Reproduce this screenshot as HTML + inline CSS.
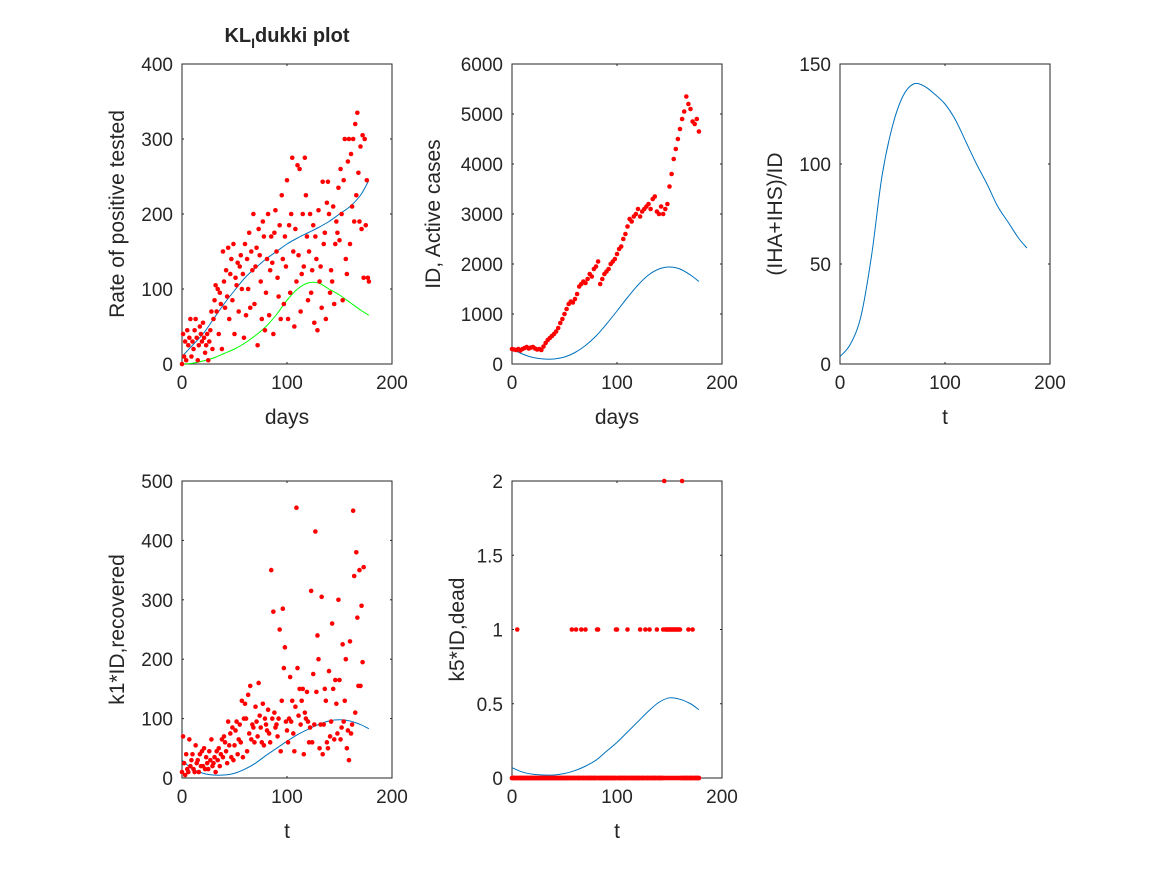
<!DOCTYPE html>
<html><head><meta charset="utf-8"><style>
body{margin:0;background:#fff;}
svg text{font-family:"Liberation Sans",sans-serif;fill:#262626;}
</style></head><body>
<svg id="fig" width="1167" height="875" viewBox="0 0 1167 875">
<rect width="1167" height="875" fill="#fff"/>
<text x="287" y="42" font-size="20" font-weight="bold" text-anchor="middle">KL<tspan font-size="14" dy="6">I</tspan><tspan dy="-6">dukki plot</tspan></text>
</svg>
<script>
// ---- data ----
const rateValues = [0,40,10,30,5,45,25,35,60,10,30,20,45,60,35,5,25,50,40,30,55,35,15,25,40,5,30,45,70,20,60,85,105,70,100,40,95,80,20,150,110,75,125,90,155,60,120,140,85,160,40,115,105,135,70,130,145,100,120,35,160,65,140,100,175,75,150,125,200,80,130,155,25,180,145,110,60,190,170,45,95,140,200,65,125,170,135,40,175,205,150,115,90,185,60,225,140,80,170,130,245,60,185,95,200,275,150,50,180,110,265,145,260,70,120,200,130,275,225,170,85,150,200,95,125,185,55,170,140,45,205,110,130,75,243,160,175,60,215,243,200,95,125,110,210,80,160,190,175,235,165,260,200,85,245,300,140,120,270,300,160,280,210,300,190,320,225,335,255,190,290,180,305,115,300,185,245,115,110];
const curveDays = [0,10,20,30,40,50,60,70,80,90,100,110,120,130,140,150,160,170,178];
const rateBlue = [10,25,40,60,80,98,115,128,140,150,160,168,175,182,190,200,210,225,245];
const rateGreen = [0,1,4,8,14,20,28,38,50,66,85,100,108,108,100,92,82,72,65];
const activeDayStep = 2;
const activeValues = [300,290,280,300,270,300,320,340,310,330,340,310,290,300,280,350,420,480,520,560,600,650,720,820,900,1000,1100,1200,1250,1230,1300,1400,1550,1600,1650,1620,1700,1800,1750,1900,1950,2050,1600,1700,1800,1850,1900,2000,2050,2100,2200,2300,2350,2500,2600,2750,2900,2850,2950,3000,3100,2950,3050,3100,3150,3200,3100,3300,3350,3050,3000,3150,3000,3100,3200,3550,3800,4100,4300,4500,4700,4900,5050,5350,5200,5100,4850,4800,4900,4650];
const activeBlue = [300,200,130,100,100,140,230,370,560,800,1060,1330,1580,1780,1900,1940,1900,1780,1650];
const ratioCurve = [3.7,10,24,54,94,119,134,140,139,135,130,122,111,100,90,79,71,63,58];
const recoveredValues = [10,70,25,5,40,15,10,65,20,30,40,15,10,55,25,30,10,40,20,45,20,50,15,35,25,15,45,30,65,20,25,35,10,45,30,50,20,40,65,35,70,60,45,25,95,55,75,35,85,30,55,80,95,40,65,90,60,130,35,100,125,100,45,140,75,155,65,90,85,60,120,95,70,160,105,85,60,125,55,100,90,80,115,75,60,350,100,280,110,85,90,70,100,250,45,130,285,185,220,95,80,60,100,170,95,130,75,45,120,455,185,105,150,90,130,150,40,110,100,145,95,60,85,315,60,175,90,415,145,240,200,50,90,305,40,90,150,130,60,50,180,70,95,260,150,65,165,125,75,300,165,65,85,225,95,130,200,50,80,30,230,75,90,450,340,110,380,270,155,350,155,290,195,355];
const recoveredBlue = [30,15,8,5,5,8,15,25,38,50,62,73,82,90,96,98,96,90,83];
const deadValues = [0,0,0,0,0,1,0,0,0,0, 0,0,0,0,0,0,0,0,0,0, 0,0,0,0,0,0,0,0,0,0, 0,0,0,0,0,0,0,0,0,0, 0,0,0,0,0,0,0,0,0,0, 0,0,0,0,0,0,0,1,0,0, 0,1,0,0,0,0,1,0,0,0, 1,0,0,0,0,0,0,0,0,0, 0,1,1,0,0,0,0,0,0,0, 0,0,0,0,0,0,0,0,0,1, 1,0,0,0,0,0,0,0,0,0, 1,0,0,0,0,0,0,0,0,0, 0,0,1,0,0,0,0,1,0,0, 0,1,0,0,0,0,0,0,1,0, 0,0,0,0,1,2,1,1,1,1, 1,1,1,1,1,1,1,1,1,1, 1,0,2,0,0,0,0,0,1,0, 0,0,1,0,0,0,0,0,0];
const deadValuesB = [0,0,0,0,0,0,0,0,0,0, 0,0,0,0,0,0,0,0,0,0, 0,0,0,0,0,0,0,0,0,0, 0,0,0,0,0,0,0,0,0,0, 0,0,0,0,0,0,0,0,0,0, 0,0,0,0,0,0,0,0,0,0, 0,0,0,0,0,0,0,0,0,0, 0,0,0,0,0,0,0,0,0,0, 0,0,0,0,0,0,0,0,0,0, 0,0,0,0,0,0,0,0,0,0, 0,0,0,0,0,0,0,0,0,0, 0,0,0,0,0,0,0,0,0,0, 0,0,0,0,0,0,0,0,0,0, 0,0,0,0,0,0,0,0,0,0, 0,0,0,0,0,0,0,0,0,0, 0,0,0,0,0,0,0,0,0,0, 0,0,0,0,0,0,0,0,0,0, 0,0,0,0,0,0,0,0,0];
const deadBlue = [0.07,0.04,0.025,0.02,0.02,0.03,0.05,0.08,0.12,0.18,0.24,0.31,0.38,0.45,0.51,0.54,0.53,0.50,0.46];
const xTicks = [0,100,200];
// ---- drawing ----
const svg = document.getElementById('fig');
const NS = 'http://www.w3.org/2000/svg';
function mk(tag, attrs, parent){const e=document.createElementNS(NS,tag);for(const k in attrs)e.setAttribute(k,attrs[k]);(parent||svg).appendChild(e);return e;}
function smooth(pts){let d='M'+pts[0][0]+','+pts[0][1];for(let i=0;i<pts.length-1;i++){const p0=pts[Math.max(0,i-1)],p1=pts[i],p2=pts[i+1],p3=pts[Math.min(pts.length-1,i+2)];const c1=[p1[0]+(p2[0]-p0[0])/6,p1[1]+(p2[1]-p0[1])/6],c2=[p2[0]-(p3[0]-p1[0])/6,p2[1]-(p3[1]-p1[1])/6];d+=' C'+c1+' '+c2+' '+p2;}return d;}
function panel(cfg){
  const g=mk('g',{});
  
  
  const L=cfg.x0,R=cfg.x0+210,T=cfg.y0,B=cfg.y1;
  const sx=v=>L+(v-0)/200*(R-L), sy=v=>B-(v-cfg.ymin)/(cfg.ymax-cfg.ymin)*(B-T);
  const box=mk('rect',{x:L,y:T,width:R-L,height:B-T,fill:'#fff',stroke:'#262626','stroke-width':1},g);
  
  
  xTicks.forEach(t=>{const x=sx(t);mk('line',{x1:x,x2:x,y1:B,y2:B-2,stroke:'#262626'},g);mk('line',{x1:x,x2:x,y1:T,y2:T+2,stroke:'#262626'},g);
    const tx=mk('text',{x:x,y:B+25,'font-size':19,'text-anchor':'middle'},g);tx.textContent=t;
    
    });
  cfg.yt.forEach((t,i)=>{const y=sy(t);mk('line',{x1:L,x2:L+2,y1:y,y2:y,stroke:'#262626'},g);mk('line',{x1:R,x2:R-2,y1:y,y2:y,stroke:'#262626'},g);
    const tx=mk('text',{x:L-9,y:y+7,'font-size':19,'text-anchor':'end'},g);tx.textContent=cfg.ytl[i];
    
    });
  const xl=mk('text',{x:(L+R)/2,y:B+60,'font-size':21,'text-anchor':'middle'},g);xl.textContent=cfg.xlabel;
  
  
  const yx=L-cfg.ylOff, yy=(T+B)/2;
  const yl=mk('text',{x:yx,y:yy,'font-size':21,'text-anchor':'middle',transform:`rotate(-90 ${yx} ${yy})`},g);yl.textContent=cfg.ylabel;
  
  
  (cfg.lines||[]).forEach(ln=>{const p=mk('path',{d:smooth(curveDays.map((d,i)=>[sx(d),sy(ln.v[i])])),fill:'none',stroke:ln.c,'stroke-width':1},g);
    
    });
  (cfg.pts||[]).forEach(ps=>{ps.v.forEach((v,i)=>{const c=mk('circle',{cx:sx(i*ps.step),cy:sy(v),r:2.3,fill:'#f00'},g);
    
    });});
}
panel({name:'positive-rate-panel',x0:182,y0:64,y1:364,ymin:0,ymax:400,yt:[0,100,200,300,400],ytl:['0','100','200','300','400'],xlabel:'days',ylabel:'Rate of positive tested',ylOff:58,
  lines:[{v:rateBlue,c:'#0072bd',name:'model-positive-curve'},{v:rateGreen,c:'#00ff00',name:'model-green-curve'}],pts:[{v:rateValues,step:1}]});
panel({name:'active-cases-panel',x0:512,y0:64,y1:364,ymin:0,ymax:6000,yt:[0,1000,2000,3000,4000,5000,6000],ytl:['0','1000','2000','3000','4000','5000','6000'],xlabel:'days',ylabel:'ID, Active cases',ylOff:72,
  lines:[{v:activeBlue,c:'#0072bd',name:'model-active-curve'}],pts:[{v:activeValues,step:activeDayStep}]});
panel({name:'ratio-panel',x0:840,y0:64,y1:364,ymin:0,ymax:150,yt:[0,50,100,150],ytl:['0','50','100','150'],xlabel:'t',ylabel:'(IHA+IHS)/ID',ylOff:58,
  lines:[{v:ratioCurve,c:'#0072bd',name:'ratio-curve'}]});
panel({name:'recovered-panel',x0:182,y0:481,y1:778,ymin:0,ymax:500,yt:[0,100,200,300,400,500],ytl:['0','100','200','300','400','500'],xlabel:'t',ylabel:'k1*ID,recovered',ylOff:58,
  lines:[{v:recoveredBlue,c:'#0072bd',name:'model-recovered-curve'}],pts:[{v:recoveredValues,step:1}]});
panel({name:'dead-panel',x0:512,y0:481,y1:778,ymin:0,ymax:2,yt:[0,0.5,1,1.5,2],ytl:['0','0.5','1','1.5','2'],xlabel:'t',ylabel:'k5*ID,dead',ylOff:48,
  lines:[{v:deadBlue,c:'#0072bd',name:'model-dead-curve'}],pts:[{v:deadValuesB,step:1},{v:deadValues,step:1}]});
</script>
</body></html>
